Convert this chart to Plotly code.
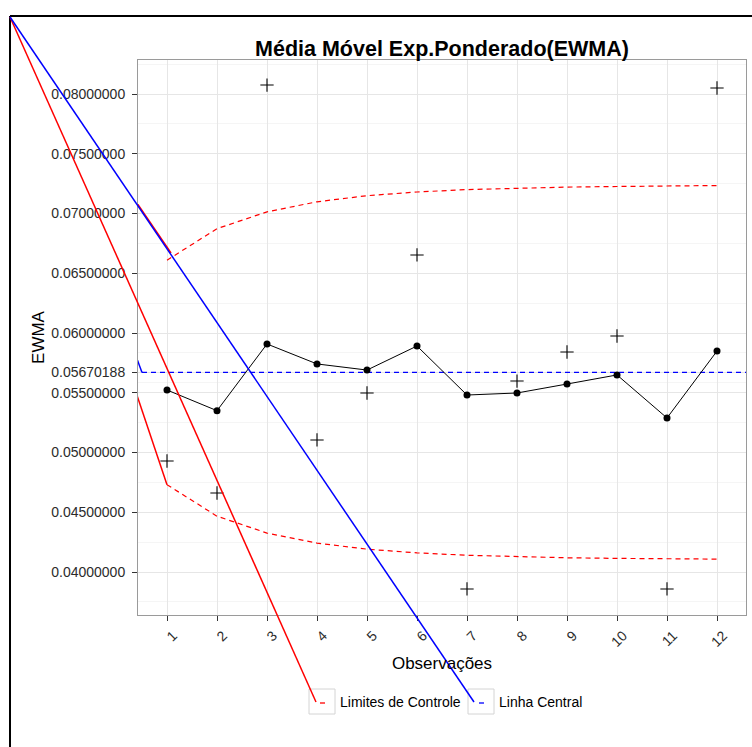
import plotly.graph_objects as go

# ---- data -------------------------------------------------------------
obs = list(range(1, 13))
valores = [0.04929, 0.04661, 0.08075, 0.05105, 0.05498, 0.06653,
           0.03858, 0.05598, 0.05841, 0.05975, 0.03858, 0.08050]
ewma = [0.05523, 0.05350, 0.05908, 0.05741, 0.05690, 0.05891,
        0.05481, 0.05498, 0.05573, 0.05649, 0.05289, 0.05849]
lsc = [0.06609, 0.06873, 0.07014, 0.07098, 0.07149, 0.07180,
       0.07200, 0.07213, 0.07221, 0.07226, 0.07229, 0.07234]
lic = [0.04731, 0.04467, 0.04326, 0.04242, 0.04191, 0.04160,
       0.04140, 0.04127, 0.04119, 0.04114, 0.04111, 0.04108]
centro = 0.05670188
centro_x = [0.5, 13]

y_ticks = [0.040, 0.045, 0.050, 0.055, centro, 0.060, 0.065, 0.070, 0.075, 0.080]
y_ticktext = ["%.8f" % v for v in y_ticks]
y_minor = [0.0375, 0.0425, 0.0475, 0.0525, 0.05585, 0.05835,
           0.0625, 0.0675, 0.0725, 0.0775, 0.0825]

legenda = ["Limites de Controle", "Linha Central"]
cores = ["#ff0000", "#0000ff"]

# ---- layout geometry (pixels) -----------------------------------------
W, H = 752, 747
PL, PR, PT, PB = 138, 746, 60, 615
XR = [0.42, 12.58]
YR = [0.036402, 0.082845]
FONT = "Liberation Sans, Arial, sans-serif"


def paper_x(px):
    return (px - PL) / (PR - PL)


def paper_y(py):
    return (PB - py) / (PB - PT)


def data_x(px):
    return XR[0] + (px - PL) / (PR - PL) * (XR[1] - XR[0])


def data_y(py):
    return YR[1] - (py - PT) / (PB - PT) * (YR[1] - YR[0])


# outer frame corner, where the stray path segments start
corner = (10, 17)
cx, cy = data_x(corner[0]), data_y(corner[1])
# where the dashed upper limit starts to be drawn
lsc_inicio = (data_x(171), data_y(253))

fig = go.Figure()

# stray solid segments from the frame corner to the start of each line
fig.add_trace(go.Scatter(x=[cx, lsc_inicio[0]], y=[cy, lsc_inicio[1]], mode="lines",
                         line=dict(color=cores[0], width=1.5),
                         showlegend=False, hoverinfo="skip"))
fig.add_trace(go.Scatter(x=[cx, obs[0]], y=[cy, lic[0]], mode="lines",
                         line=dict(color=cores[0], width=1.5),
                         showlegend=False, hoverinfo="skip"))
fig.add_trace(go.Scatter(x=[cx, centro_x[0]], y=[cy, centro], mode="lines",
                         line=dict(color=cores[1], width=1.5),
                         showlegend=False, hoverinfo="skip"))

# control limits
fig.add_trace(go.Scatter(x=obs, y=lsc, mode="lines", name=legenda[0],
                         showlegend=False,
                         line=dict(color=cores[0], width=1.2, dash="5px,4px")))
fig.add_trace(go.Scatter(x=obs, y=lic, mode="lines", name=legenda[0],
                         showlegend=False,
                         line=dict(color=cores[0], width=1.2, dash="5px,4px")))
# centre line
fig.add_trace(go.Scatter(x=centro_x, y=[centro, centro], mode="lines",
                         name=legenda[1], showlegend=False,
                         line=dict(color=cores[1], width=1.2, dash="5px,4px")))

# EWMA statistic
fig.add_trace(go.Scatter(x=obs, y=ewma, mode="lines+markers", showlegend=False,
                         name="EWMA",
                         line=dict(color="black", width=1),
                         marker=dict(color="black", size=7)))
# individual observations
fig.add_trace(go.Scatter(x=obs, y=valores, mode="markers", showlegend=False,
                         name="Observações",
                         marker=dict(symbol="cross-thin", size=9.5,
                                     line=dict(color="black", width=1.1))))

# frame lines
shapes = [
    dict(type="line", xref="paper", yref="paper",
         x0=paper_x(corner[0]), y0=paper_y(H + 5), x1=paper_x(corner[0]), y1=paper_y(16),
         line=dict(color="black", width=2)),
    dict(type="line", xref="paper", yref="paper",
         x0=paper_x(corner[0]), y0=paper_y(16), x1=paper_x(W + 5), y1=paper_y(16),
         line=dict(color="black", width=2)),
]

# legend: key boxes, short dashes, stray segments to the keys and labels
annotations = []
legend_keys = [(309, 316), (468, 474)]  # key box left edge, stray-line end
for (kx, tip), nome, cor in zip(legend_keys, legenda, cores):
    shapes.append(dict(type="rect", xref="paper", yref="paper",
                       x0=paper_x(kx), x1=paper_x(kx + 26),
                       y0=paper_y(714), y1=paper_y(689),
                       line=dict(color="#d4d4d4", width=1), fillcolor="white",
                       layer="above"))
    shapes.append(dict(type="line", xref="paper", yref="paper",
                       x0=paper_x(kx + 11), x1=paper_x(kx + 16),
                       y0=paper_y(703), y1=paper_y(703),
                       line=dict(color=cor, width=1.3), layer="above"))
    shapes.append(dict(type="line", xref="paper", yref="paper",
                       x0=paper_x(corner[0]), y0=paper_y(corner[1]),
                       x1=paper_x(tip), y1=paper_y(702),
                       line=dict(color=cor, width=1.5), layer="above"))
    annotations.append(dict(text=nome, xref="paper", yref="paper",
                            x=paper_x(kx + 29), y=paper_y(702),
                            xanchor="left", yanchor="middle", showarrow=False,
                            font=dict(family=FONT, size=14, color="black")))

fig.update_layout(
    width=W, height=H,
    margin=dict(l=PL, r=W - PR, t=PT, b=H - PB),
    paper_bgcolor="white", plot_bgcolor="white",
    font=dict(family=FONT, color="#2b2b2b", size=14),
    showlegend=False,
    title=dict(text="<b>Média Móvel Exp.Ponderado(EWMA)</b>",
               font=dict(family=FONT, size=21.5, color="black"),
               x=(PL + PR) / 2 / W, xanchor="center",
               y=1 - 48 / H, yanchor="middle"),
    xaxis=dict(range=XR, tickvals=obs, ticktext=[str(o) for o in obs],
               tickangle=-45, ticks="outside", ticklen=5, tickcolor="#333333",
               ticklabelshift=6, ticklabelstandoff=1,
               tickfont=dict(size=14, color="#2b2b2b"),
               showgrid=True, gridcolor="#e6e6e6", gridwidth=1,
               showline=True, linecolor="#9a9a9a", linewidth=1, mirror=True,
               zeroline=False,
               title=dict(text="Observações", font=dict(size=17, color="black"),
                          standoff=8)),
    yaxis=dict(range=YR, tickvals=y_ticks, ticktext=y_ticktext,
               ticks="outside", ticklen=5, tickcolor="#333333",
               ticklabelstandoff=4,
               tickfont=dict(size=14, color="#2b2b2b"),
               showgrid=True, gridcolor="#e6e6e6", gridwidth=1,
               minor=dict(tickvals=y_minor, showgrid=True, gridcolor="#f5f5f5",
                          gridwidth=1, ticks=""),
               showline=True, linecolor="#9a9a9a", linewidth=1, mirror=True,
               zeroline=False,
               title=dict(text="EWMA", font=dict(size=17, color="black"),
                          standoff=2)),
    shapes=shapes,
    annotations=annotations,
)

fig.write_html("out.html")
